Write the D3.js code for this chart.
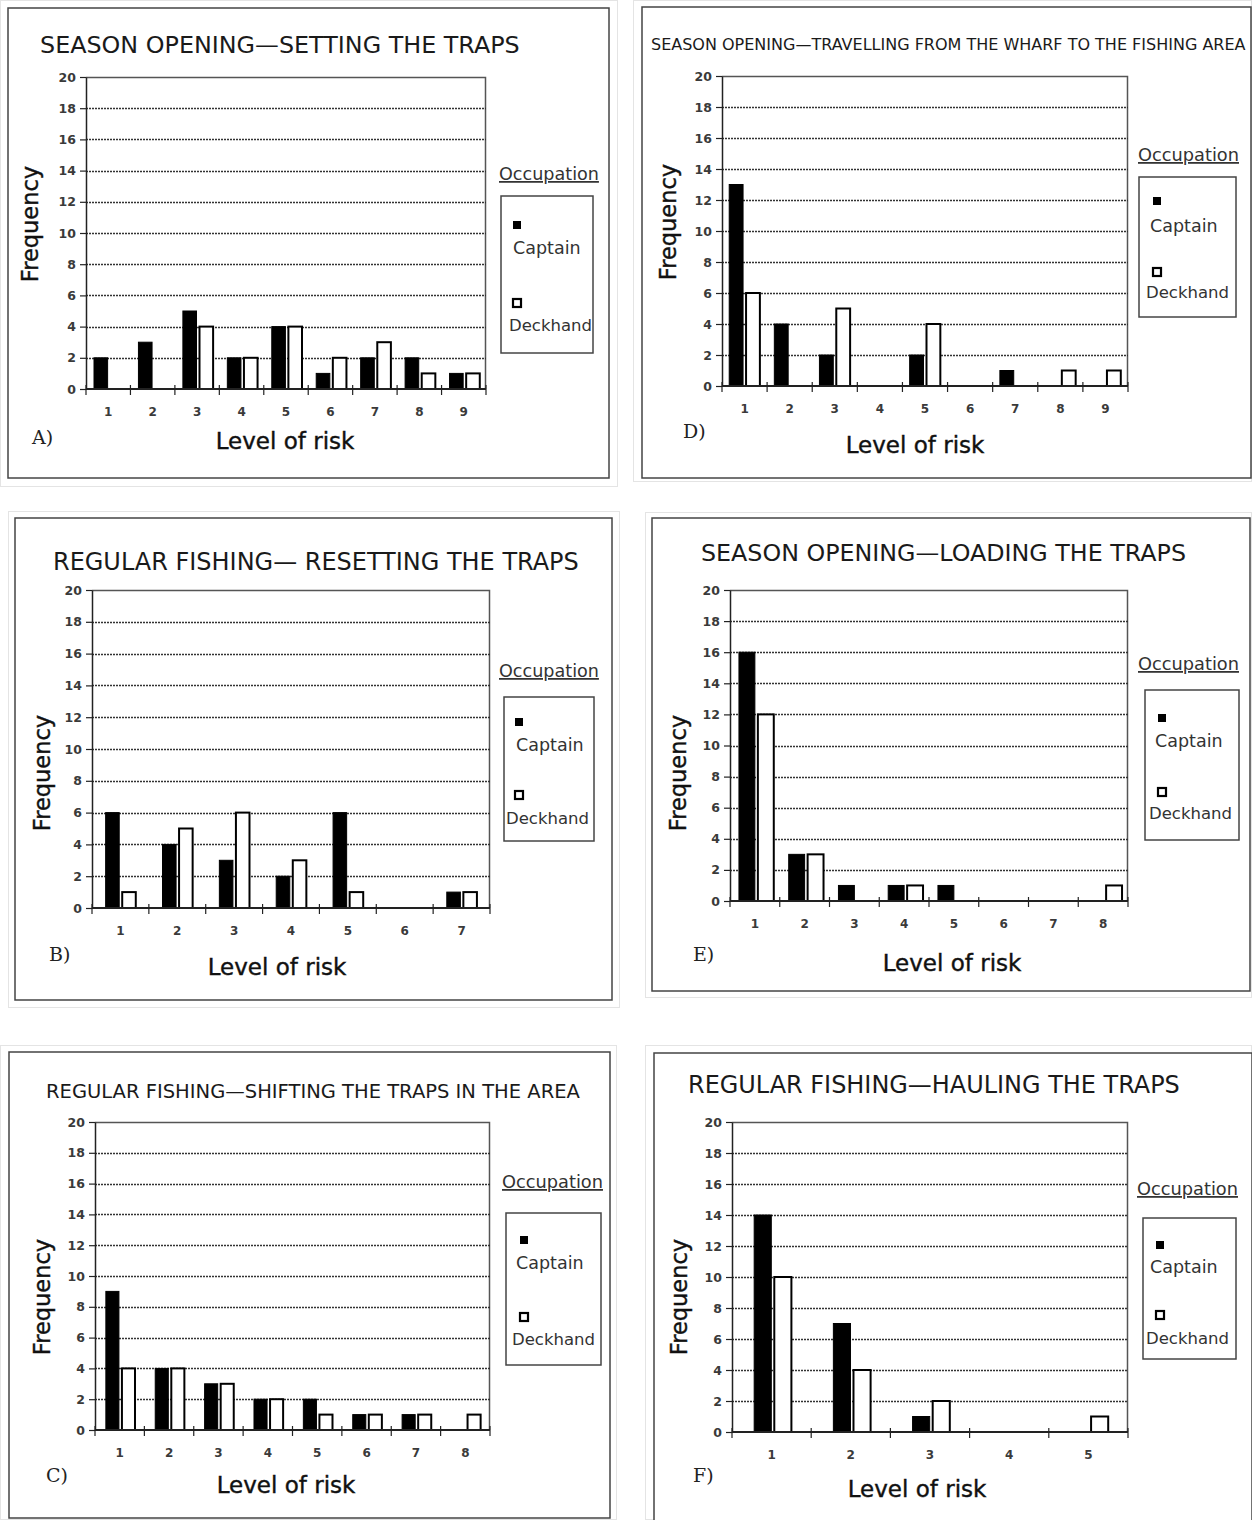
<!DOCTYPE html>
<html>
<head>
<meta charset="utf-8">
<script src="https://cdn.jsdelivr.net/npm/d3@7"></script>
<style>
  html, body { margin: 0; padding: 0; background: #fff; }
  svg { display: block; }
</style>
</head>
<body>
<svg id="chart" width="1252" height="1520"></svg>
<script>
// ---------------- DATA ----------------
const seriesNames = ["Captain", "Deckhand"];
const legendTitle = "Occupation";
const yAxisTitle = "Frequency";
const xAxisTitle = "Level of risk";
const yTickValues = [0, 2, 4, 6, 8, 10, 12, 14, 16, 18, 20];

const titleA = "SEASON OPENING\u2014SETTING THE TRAPS";
const levelsA = ["1", "2", "3", "4", "5", "6", "7", "8", "9"];
const captainA = [2, 3, 5, 2, 4, 1, 2, 2, 1];
const deckhandA = [0, 0, 4, 2, 4, 2, 3, 1, 1];

const titleD = "SEASON OPENING\u2014TRAVELLING FROM THE WHARF TO THE FISHING AREA";
const levelsD = ["1", "2", "3", "4", "5", "6", "7", "8", "9"];
const captainD = [13, 4, 2, 0, 2, 0, 1, 0, 0];
const deckhandD = [6, 0, 5, 0, 4, 0, 0, 1, 1];

const titleB = "REGULAR FISHING\u2014 RESETTING THE TRAPS";
const levelsB = ["1", "2", "3", "4", "5", "6", "7"];
const captainB = [6, 4, 3, 2, 6, 0, 1];
const deckhandB = [1, 5, 6, 3, 1, 0, 1];

const titleE = "SEASON OPENING\u2014LOADING THE TRAPS";
const levelsE = ["1", "2", "3", "4", "5", "6", "7", "8"];
const captainE = [16, 3, 1, 1, 1, 0, 0, 0];
const deckhandE = [12, 3, 0, 1, 0, 0, 0, 1];

const titleC = "REGULAR FISHING\u2014SHIFTING THE TRAPS IN THE AREA";
const levelsC = ["1", "2", "3", "4", "5", "6", "7", "8"];
const captainC = [9, 4, 3, 2, 2, 1, 1, 0];
const deckhandC = [4, 4, 3, 2, 1, 1, 1, 1];

const titleF = "REGULAR FISHING\u2014HAULING THE TRAPS";
const levelsF = ["1", "2", "3", "4", "5"];
const captainF = [14, 7, 1, 0, 0];
const deckhandF = [10, 4, 2, 0, 1];

// ---------------- LAYOUT ----------------
const panels = [
  { letter: "A)", title: titleA, levels: levelsA, cap: captainA, deck: deckhandA,
    shot: [0, 0, 618, 487], frame: [8, 8, 609, 478], plot: [86, 77, 486, 389],
    titlePos: { x: 40, y: 53, w: 480, size: 21, weight: 400 },
    freq: { x: 30, y: 224 }, xlab: { x: 285, y: 449 }, letterPos: { x: 32, y: 444 },
    occ: { x: 499, y: 180, w: 100 }, legBox: [501, 196, 593, 353],
    capM: [517, 225], capT: { x: 513, y: 254 }, deckM: [517, 303], deckT: { x: 509, y: 331 },
    grp: [0.18, 0.86] },
  { letter: "D)", title: titleD, levels: levelsD, cap: captainD, deck: deckhandD,
    shot: [633, 0, 1252, 482], frame: [642, 7, 1251, 478], plot: [722, 76, 1128, 386],
    titlePos: { x: 651, y: 50, w: 595, size: 14, weight: 400 },
    freq: { x: 668, y: 222 }, xlab: { x: 915, y: 453 }, letterPos: { x: 683, y: 438 },
    occ: { x: 1138, y: 161, w: 101 }, legBox: [1139, 177, 1236, 317],
    capM: [1157, 201], capT: { x: 1150, y: 232 }, deckM: [1157, 272], deckT: { x: 1146, y: 298 },
    grp: [0.16, 0.84] },
  { letter: "B)", title: titleB, levels: levelsB, cap: captainB, deck: deckhandB,
    shot: [8, 511, 620, 1008], frame: [15, 518, 612, 1000], plot: [92, 590, 490, 908],
    titlePos: { x: 53, y: 570, w: 526, size: 21, weight: 400 },
    freq: { x: 42, y: 773 }, xlab: { x: 277, y: 975 }, letterPos: { x: 49, y: 961 },
    occ: { x: 499, y: 677, w: 100 }, legBox: [504, 697, 594, 841],
    capM: [519, 722], capT: { x: 516, y: 751 }, deckM: [519, 795], deckT: { x: 506, y: 824 },
    grp: [0.24, 0.77] },
  { letter: "E)", title: titleE, levels: levelsE, cap: captainE, deck: deckhandE,
    shot: [645, 512, 1252, 998], frame: [652, 518, 1250, 991], plot: [730, 590, 1128, 901],
    titlePos: { x: 701, y: 561, w: 485, size: 21, weight: 400 },
    freq: { x: 678, y: 773 }, xlab: { x: 952, y: 971 }, letterPos: { x: 693, y: 961 },
    occ: { x: 1138, y: 670, w: 101 }, legBox: [1145, 690, 1239, 840],
    capM: [1162, 718], capT: { x: 1155, y: 747 }, deckM: [1162, 792], deckT: { x: 1149, y: 819 },
    grp: [0.18, 0.88] },
  { letter: "C)", title: titleC, levels: levelsC, cap: captainC, deck: deckhandC,
    shot: [0, 1045, 617, 1520], frame: [9, 1052, 610, 1518], plot: [95, 1122, 490, 1430],
    titlePos: { x: 46, y: 1098, w: 534, size: 17, weight: 400 },
    freq: { x: 42, y: 1297 }, xlab: { x: 286, y: 1493 }, letterPos: { x: 46, y: 1482 },
    occ: { x: 502, y: 1188, w: 101 }, legBox: [506, 1213, 601, 1365],
    capM: [524, 1240], capT: { x: 516, y: 1269 }, deckM: [524, 1317], deckT: { x: 512, y: 1345 },
    grp: [0.22, 0.81] },
  { letter: "F)", title: titleF, levels: levelsF, cap: captainF, deck: deckhandF,
    shot: [645, 1045, 1252, 1520], frame: [654, 1053, 1252, 1530], plot: [732, 1122, 1128, 1432],
    titlePos: { x: 688, y: 1093, w: 492, size: 21, weight: 400 },
    freq: { x: 679, y: 1297 }, xlab: { x: 917, y: 1497 }, letterPos: { x: 693, y: 1482 },
    occ: { x: 1137, y: 1195, w: 101 }, legBox: [1143, 1218, 1236, 1359],
    capM: [1160, 1245], capT: { x: 1150, y: 1273 }, deckM: [1160, 1315], deckT: { x: 1146, y: 1344 },
    grp: [0.28, 0.75] }
];

const SANS = "'DejaVu Sans', Verdana, sans-serif";
const SERIF = "'DejaVu Serif', 'Liberation Serif', serif";

const svg = d3.select("#chart");

function fitWidth(sel, target) {
  const w = sel.node().getComputedTextLength();
  const fs = parseFloat(sel.attr("font-size"));
  if (w > 0) sel.attr("font-size", (fs * target / w).toFixed(2));
}

panels.forEach(p => {
  const g = svg.append("g");

  // screenshot light frame
  g.append("rect")
    .attr("x", p.shot[0] + 0.5).attr("y", p.shot[1] + 0.5)
    .attr("width", p.shot[2] - p.shot[0] - 1).attr("height", p.shot[3] - p.shot[1] - 1)
    .attr("fill", "none").attr("stroke", "#e4e4e4").attr("stroke-width", 1);

  // panel frame
  g.append("rect")
    .attr("x", p.frame[0]).attr("y", p.frame[1])
    .attr("width", p.frame[2] - p.frame[0]).attr("height", p.frame[3] - p.frame[1])
    .attr("fill", "#fff").attr("stroke", "#444").attr("stroke-width", 1.5);

  // title
  const t = g.append("text")
    .attr("x", p.titlePos.x).attr("y", p.titlePos.y)
    .attr("font-family", SANS).attr("font-size", p.titlePos.size)
    .attr("font-weight", p.titlePos.weight)
    .attr("fill", "#1a1a1a")
    .text(p.title);
  fitWidth(t, p.titlePos.w);

  const [x0, y0, x1, y1] = p.plot;
  const x = d3.scaleBand().domain(p.levels).range([x0, x1]).padding(0);
  const y = d3.scaleLinear().domain([0, 20]).range([y1, y0]);

  // plot border top & right
  g.append("path")
    .attr("d", `M${x0},${y0 + 0.5}H${x1 - 0.5}V${y1}`)
    .attr("fill", "none").attr("stroke", "#555").attr("stroke-width", 1.5);

  // gridlines
  g.append("g").selectAll("line")
    .data(yTickValues.filter(v => v > 0 && v < 20))
    .join("line")
    .attr("x1", x0).attr("x2", x1)
    .attr("y1", d => Math.round(y(d)) + 0.5).attr("y2", d => Math.round(y(d)) + 0.5)
    .attr("stroke", "#333").attr("stroke-width", 1.3).attr("stroke-dasharray", "2,1");

  // y axis
  const yAx = g.append("g")
    .attr("transform", `translate(${x0},0)`)
    .call(d3.axisLeft(y).tickValues(yTickValues).tickSize(6).tickPadding(4).tickSizeOuter(0));
  yAx.select(".domain").attr("stroke", "#222").attr("stroke-width", 1.5);
  yAx.selectAll(".tick line").attr("stroke", "#222").attr("stroke-width", 1.2);
  yAx.selectAll(".tick text")
    .attr("font-family", SANS).attr("font-size", 12.5).attr("font-weight", "bold")
    .attr("fill", "#3a3a3a");

  // bars
  const bw = x.bandwidth();
  const gs = p.grp[0] * bw, ge = p.grp[1] * bw;
  const gap = 3;
  const barW = (ge - gs - gap) / 2;
  const rows = p.levels.map((lv, i) => ({ lv, cap: p.cap[i], deck: p.deck[i] }));

  g.append("g").selectAll("rect.cap")
    .data(rows.filter(d => d.cap > 0))
    .join("rect")
    .attr("x", d => x(d.lv) + gs)
    .attr("y", d => y(d.cap))
    .attr("width", barW)
    .attr("height", d => y(0) - y(d.cap))
    .attr("fill", "#000").attr("stroke", "#000").attr("stroke-width", 1);

  g.append("g").selectAll("rect.deck")
    .data(rows.filter(d => d.deck > 0))
    .join("rect")
    .attr("x", d => x(d.lv) + gs + barW + gap)
    .attr("y", d => y(d.deck))
    .attr("width", barW)
    .attr("height", d => y(0) - y(d.deck))
    .attr("fill", "#fff").attr("stroke", "#000").attr("stroke-width", 2);

  // x axis (bottom line + ticks at band edges)
  g.append("line")
    .attr("x1", x0).attr("x2", x1).attr("y1", y1).attr("y2", y1)
    .attr("stroke", "#222").attr("stroke-width", 1.8);
  const edges = p.levels.map(lv => x(lv)).concat([x1]);
  g.append("g").selectAll("line")
    .data(edges)
    .join("line")
    .attr("x1", d => d).attr("x2", d => d)
    .attr("y1", y1 - 4).attr("y2", y1 + 6)
    .attr("stroke", "#222").attr("stroke-width", 1.2);
  g.append("g").selectAll("text")
    .data(p.levels)
    .join("text")
    .attr("x", d => x(d) + bw / 2)
    .attr("y", y1 + 27)
    .attr("text-anchor", "middle")
    .attr("font-family", SANS).attr("font-size", 12).attr("font-weight", "bold")
    .attr("fill", "#3a3a3a")
    .text(d => d);

  // axis titles
  g.append("text")
    .attr("transform", `translate(${p.freq.x},${p.freq.y}) rotate(-90)`)
    .attr("text-anchor", "middle").attr("dominant-baseline", "central")
    .attr("font-family", SANS).attr("font-size", 22.5).attr("fill", "#111")
    .attr("stroke", "#111").attr("stroke-width", 0.4)
    .text(yAxisTitle);
  g.append("text")
    .attr("x", p.xlab.x).attr("y", p.xlab.y)
    .attr("text-anchor", "middle")
    .attr("font-family", SANS).attr("font-size", 23).attr("fill", "#111")
    .attr("stroke", "#111").attr("stroke-width", 0.4)
    .text(xAxisTitle);

  // panel letter
  g.append("text")
    .attr("x", p.letterPos.x).attr("y", p.letterPos.y)
    .attr("font-family", SERIF).attr("font-size", 19).attr("fill", "#222")
    .text(p.letter);

  // legend title (underlined)
  const occ = g.append("text")
    .attr("x", p.occ.x).attr("y", p.occ.y)
    .attr("font-family", SANS).attr("font-size", 17).attr("fill", "#333")
    .attr("text-decoration", "underline")
    .text(legendTitle);
  fitWidth(occ, p.occ.w);

  // legend box
  g.append("rect")
    .attr("x", p.legBox[0]).attr("y", p.legBox[1])
    .attr("width", p.legBox[2] - p.legBox[0]).attr("height", p.legBox[3] - p.legBox[1])
    .attr("fill", "#fff").attr("stroke", "#444").attr("stroke-width", 1.5);

  // legend markers
  g.append("rect")
    .attr("x", p.capM[0] - 4).attr("y", p.capM[1] - 4)
    .attr("width", 8).attr("height", 8).attr("fill", "#000");
  g.append("rect")
    .attr("x", p.deckM[0] - 4).attr("y", p.deckM[1] - 4)
    .attr("width", 8).attr("height", 8).attr("fill", "#fff")
    .attr("stroke", "#000").attr("stroke-width", 2.2);

  g.append("text")
    .attr("x", p.capT.x).attr("y", p.capT.y)
    .attr("font-family", SANS).attr("font-size", 17.5).attr("fill", "#333")
    .text(seriesNames[0]);
  g.append("text")
    .attr("x", p.deckT.x).attr("y", p.deckT.y)
    .attr("font-family", SANS).attr("font-size", 16.5).attr("fill", "#333")
    .text(seriesNames[1]);
});
</script>
</body>
</html>
